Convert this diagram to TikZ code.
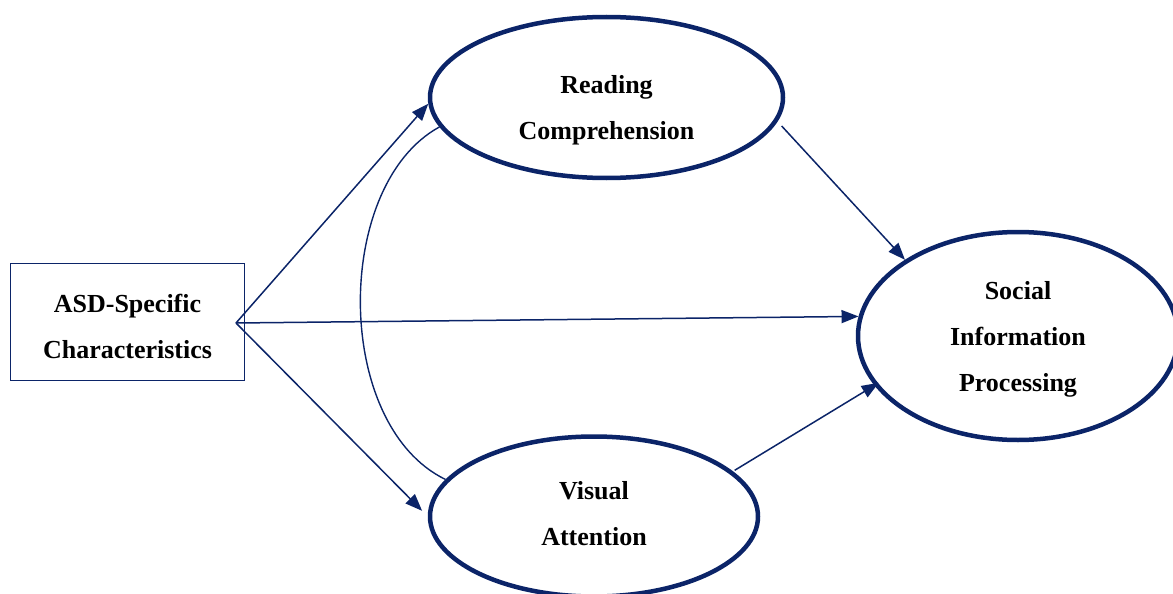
\documentclass[tikz,border=0pt]{standalone}
\usepackage{fontspec}
\setmainfont{Liberation Serif}
\usetikzlibrary{shapes.geometric,arrows.meta}
\definecolor{navy}{HTML}{0B2468}
\newcommand\mylines[1]{\begin{tabular}{@{}c@{}}#1\end{tabular}}
\newcommand\lowered[2]{\raisebox{#1}[\height][\depth]{#2}}
\begin{document}
\begin{tikzpicture}[x=1pt,y=-1pt,
  lbl/.style={font=\fontsize{26}{46}\selectfont\bfseries, text=black},
  oval/.style={ellipse, draw=navy, line width=4.5pt, lbl, inner sep=0pt},
  srcbox/.style={rectangle, draw=navy, line width=1.2pt, lbl, inner sep=0pt,
    minimum width=234pt, minimum height=117pt},
  link/.style={draw=navy, line width=1.5pt, -{Triangle[length=17pt,width=13pt]}},
  corr/.style={draw=navy, line width=1.4pt}]
\useasboundingbox (0,0) rectangle (1173,594);
\node[srcbox] (asd) at (127.5,322) {\lowered{-4pt}{\mylines{ASD-Specific\\Characteristics}}};
\node[oval, minimum width=353pt, minimum height=161pt] (rc) at (606.5,97.5)
  {\lowered{-10pt}{\mylines{Reading\\Comprehension}}};
\node[oval, minimum width=328pt, minimum height=160pt] (va) at (594,516.5)
  {\lowered{3pt}{\mylines{Visual\\Attention}}};
\node[oval, minimum width=320pt, minimum height=208pt] (si) at (1018,336)
  {\mylines{Social\\Information\\Processing}};
\coordinate (src) at (236,323);
\draw[link] (src) -- (rc.182);
\draw[link, shorten >=8pt] (src) -- (va.west);
\draw[link] (src) -- (si.173);
\draw[link, shorten <=6pt] (rc.352) -- (si.146);
\draw[link, shorten <=2pt, shorten >=-5pt] (va.18) -- (si.199);
\draw[corr] (rc.190) .. controls (333,185) and (333,425) .. (va.166);
\end{tikzpicture}
\end{document}
